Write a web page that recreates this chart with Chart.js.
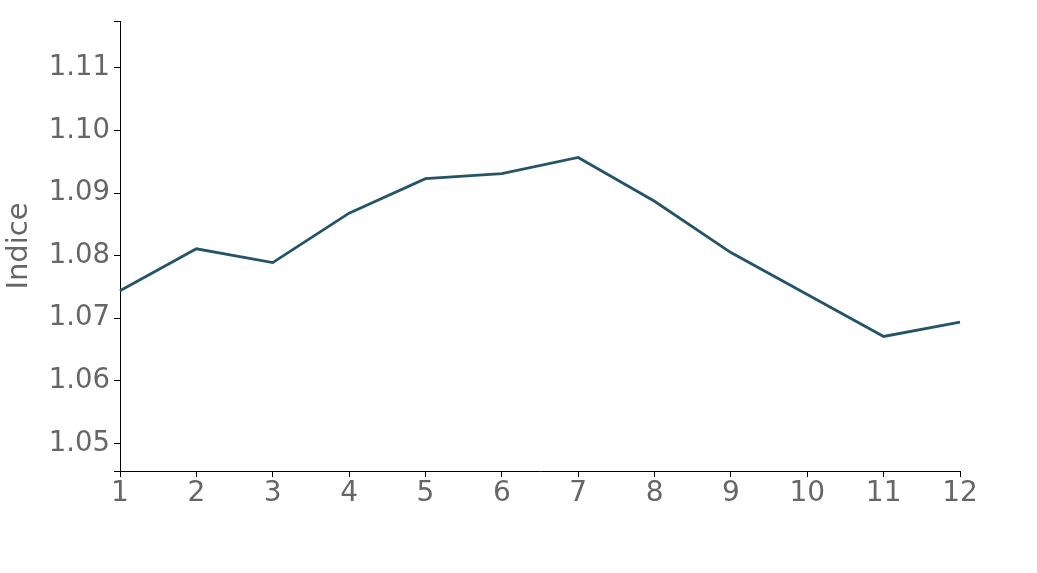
<!DOCTYPE html>
<html>
<head>
<meta charset="utf-8">
<script src="https://cdn.jsdelivr.net/npm/chart.js@4"></script>
<style>
  html, body { margin: 0; padding: 0; background: #fff; }
  #wrap { width: 1037px; height: 573px; }
</style>
</head>
<body>
<div id="wrap"><canvas id="c" width="1037" height="573"></canvas></div>
<script>
const months = ['1', '2', '3', '4', '5', '6', '7', '8', '9', '10', '11', '12'];
const indice = [1.0744, 1.0811, 1.0789, 1.0868, 1.0923, 1.0931, 1.0957, 1.0887, 1.0805, 1.0738, 1.0671, 1.0694];
const yTicks = [1.05, 1.06, 1.07, 1.08, 1.09, 1.10, 1.11];
const yMin = 1.0456;
const yMax = 1.1175;
const yTitle = 'Indice';

const FONT = "'DejaVu Sans', sans-serif";
const TEXT = '#666666';

new Chart(document.getElementById('c'), {
  type: 'line',
  data: {
    labels: months,
    datasets: [{
      label: yTitle,
      data: indice,
      borderColor: '#245468',
      borderWidth: 2.8,
      pointRadius: 0,
      tension: 0,
      fill: false
    }]
  },
  options: {
    responsive: false,
    animation: false,
    layout: { padding: { top: 21, right: 77, left: 0, bottom: 0 } },
    plugins: { legend: { display: false }, tooltip: { enabled: false } },
    scales: {
      x: {
        type: 'category',
        offset: false,
        grid: { drawOnChartArea: false, drawTicks: true, tickLength: 6, color: '#000', lineWidth: 1 },
        border: { display: true, color: '#000', width: 1 },
        ticks: {
          color: TEXT,
          font: { family: FONT, size: 28 },
          padding: 0,
          maxRotation: 0,
          autoSkip: false
        },
        afterFit(scale) { scale.height = 102; }
      },
      y: {
        type: 'linear',
        min: yMin,
        max: yMax,
        afterBuildTicks(axis) {
          axis.ticks = [yMin, ...yTicks, yMax].map(v => ({ value: v }));
        },
        grid: { drawOnChartArea: false, drawTicks: true, tickLength: 6, color: '#000', lineWidth: 1 },
        border: { display: true, color: '#000', width: 1 },
        ticks: {
          color: TEXT,
          font: { family: FONT, size: 27.5 },
          padding: 4,
          callback(value) {
            return yTicks.some(t => Math.abs(t - value) < 1e-9) ? value.toFixed(2) : '';
          }
        },
        title: {
          display: true,
          text: yTitle,
          color: TEXT,
          font: { family: FONT, size: 29 },
          padding: { top: 2, bottom: 4 }
        },
        afterFit(scale) { scale.width = 120; }
      }
    }
  }
});
</script>
</body>
</html>
